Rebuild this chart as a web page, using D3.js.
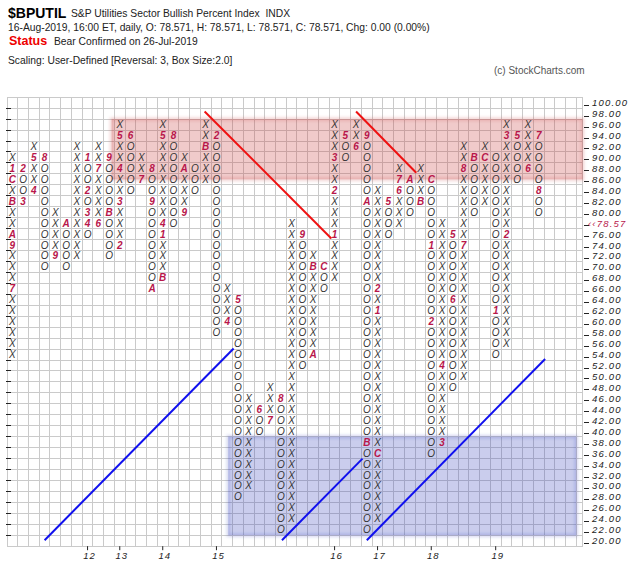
<!DOCTYPE html>
<html>
<head>
<meta charset="utf-8">
<script src="https://cdn.jsdelivr.net/npm/d3@7/dist/d3.min.js"></script>
<style>
  body { margin: 0; background: #fff; }
  svg { display: block; font-family: "Liberation Sans", Arial, sans-serif; }
</style>
</head>
<body>
<div id="chart"></div>
<script>
// point & figure columns, box size 2
const colKind = ['X','O','X','O','X','O','X','O','X','O','X','O','X','O','X','O','X','O','X','O',
                 'X','O','X','O','X','O','X','O','X','O','X','O','X','O','X','O','X','O','X','O',
                 'X','O','X','O','X','O','X','O','X','O'];
const colLow  = [54,82,84,70,72,70,72,76,78,72,74,84,86,66,68,78,80,84,86,58,
                 60,28,30,40,42,22,24,52,54,66,68,90,92,22,24,76,78,80,82,36,
                 38,48,50,80,82,54,56,86,88,80];
const colHigh = [90,88,92,90,80,78,92,90,92,90,96,94,90,88,96,94,90,88,96,94,
                 66,64,46,44,48,46,78,76,72,70,96,94,96,94,84,82,88,86,88,86,
                 78,76,92,90,92,90,96,94,96,94];

// month markers [column, price, month code]
const monthMarks = [
  [0,66,'7'],[0,74,'9'],[0,76,'A'],[0,82,'B'],[0,86,'C'],[0,88,'1'],
  [1,88,'2'],[1,82,'3'],[2,84,'4'],[2,90,'5'],[3,90,'8'],[4,72,'9'],[5,78,'A'],
  [7,90,'1'],[7,84,'2'],[7,80,'3'],[7,78,'4'],[8,78,'6'],[8,88,'7'],
  [9,90,'9'],[9,80,'B'],[10,74,'2'],[10,82,'3'],[10,88,'4'],[10,94,'5'],
  [11,94,'6'],[12,86,'7'],[13,88,'8'],[13,82,'9'],[13,66,'A'],
  [14,68,'B'],[14,76,'1'],[14,78,'4'],[14,94,'5'],[15,94,'8'],[16,80,'9'],[16,88,'A'],
  [18,92,'B'],[19,94,'2'],[20,60,'4'],[21,64,'5'],[23,44,'6'],[24,42,'7'],[25,46,'8'],
  [27,76,'9'],[28,54,'A'],[28,70,'B'],[29,70,'C'],[30,76,'1'],[30,84,'2'],[30,90,'3'],
  [31,94,'5'],[32,92,'6'],[33,94,'9'],[33,82,'A'],[33,38,'B'],
  [34,36,'C'],[34,62,'1'],[34,66,'2'],[35,82,'5'],[36,84,'6'],[36,86,'7'],
  [37,86,'A'],[38,82,'B'],[39,86,'C'],[39,74,'1'],[39,60,'2'],[40,38,'3'],[40,52,'4'],
  [41,76,'5'],[41,64,'6'],[42,74,'7'],[42,88,'8'],[43,90,'B'],[44,90,'C'],[45,62,'1'],
  [46,76,'2'],[46,94,'3'],[47,94,'5'],[48,88,'6'],[49,94,'7'],[49,84,'8']
];

const yearLabels = ['12','13','14','15','16','17','18','19'];
const yearCols   = [7, 10, 14, 19, 30, 34, 39, 45];

const priceTicks = [100,98,96,94,92,90,88,86,84,82,80,78,76,74,72,70,68,66,64,62,60,
                    58,56,54,52,50,48,46,44,42,40,38,36,34,32,30,28,26,24,22,20];
const lastPrice = 78.57;

// trend lines [col0, price0, col1, price1]
const redLines  = [[17.9, 98.4, 29.7, 75.2], [32.0, 98.4, 37.6, 87.2]];
const blueLines = [[3.0, 20.1, 20.6, 55.1], [25.1, 20.1, 32.6, 35.0], [33.0, 20.1, 49.6, 53.2]];

// shaded zones [col0, col1, priceLow, priceHigh]
const redZone  = [9.24, 53.1, 86, 97];
const blueZone = [20.1, 52.5, 21, 39];

const W = 640, H = 569;
const svg = d3.select('#chart').append('svg').attr('width', W).attr('height', H);

const x = d3.scaleLinear().domain([-0.5, 53.1]).range([7, 582.7]);
const y = d3.scaleLinear().domain([19, 101]).range([546.2, 97.2]);

const defs = svg.append('defs');
defs.append('filter').attr('id', 'soft').attr('x', '-5%').attr('y', '-20%').attr('width', '110%').attr('height', '140%')
  .append('feGaussianBlur').attr('stdDeviation', 1.6);

// header
const head = svg.append('g');
head.append('text').attr('x', 8).attr('y', 17.5).attr('font-size', 14).attr('font-weight', 'bold').text('$BPUTIL');
head.append('text').attr('x', 71).attr('y', 17).attr('font-size', 10.3).attr('fill', '#222')
  .text('S&P Utilities Sector Bullish Percent Index\u00a0\u00a0INDX');
head.append('text').attr('x', 8).attr('y', 31).attr('font-size', 10.3).attr('fill', '#222')
  .text('16-Aug-2019, 16:00 ET, daily, O: 78.571, H: 78.571, L: 78.571, C: 78.571, Chg: 0.00 (0.00%)');
head.append('text').attr('x', 9).attr('y', 45).attr('font-size', 12.5).attr('font-weight', 'bold').attr('fill', '#ee0000').text('Status');
head.append('text').attr('x', 54).attr('y', 45).attr('font-size', 10.3).attr('fill', '#222').text('Bear Confirmed on 26-Jul-2019');
head.append('text').attr('x', 8).attr('y', 64).attr('font-size', 10.3).attr('fill', '#222')
  .text('Scaling: User-Defined [Reversal: 3, Box Size:2.0]');
head.append('text').attr('x', 494).attr('y', 74).attr('font-size', 10).attr('fill', '#555')
  .text('(c) StockCharts.com');

// grid
const grid = svg.append('g').attr('stroke', '#cacaca').attr('stroke-width', 1).attr('shape-rendering', 'crispEdges');
const vLines = d3.range(-0.5, 53.1, 1);
grid.selectAll('line.v').data(vLines).join('line').attr('class', 'v')
  .attr('x1', d => x(d)).attr('x2', d => x(d)).attr('y1', y(101)).attr('y2', y(19));
grid.append('line').attr('x1', x(53.1)).attr('x2', x(53.1)).attr('y1', y(101)).attr('y2', y(19));
const hLines = d3.range(19, 101.5, 2);
grid.selectAll('line.h').data(hLines).join('line').attr('class', 'h')
  .attr('x1', x(-0.5)).attr('x2', x(53.1)).attr('y1', d => y(d)).attr('y2', d => y(d));

// shaded zones
function zone(z, col) {
  const g = svg.append('g');
  g.append('rect').attr('x', x(z[0])).attr('y', y(z[3])).attr('width', x(z[1]) - x(z[0])).attr('height', y(z[2]) - y(z[3]))
    .attr('fill', 'none').attr('stroke', col).attr('stroke-opacity', 0.25).attr('stroke-width', 3).attr('filter', 'url(#soft)');
  g.append('rect').attr('x', x(z[0])).attr('y', y(z[3])).attr('width', x(z[1]) - x(z[0])).attr('height', y(z[2]) - y(z[3]))
    .attr('fill', col).attr('fill-opacity', 0.27);
}
zone(redZone, '#c83c3c');
zone(blueZone, '#3c46be');

// boxes
const markMap = new Map(monthMarks.map(d => [d[0] + ':' + d[1], d[2]]));
const boxes = [];
colKind.forEach((k, i) => {
  for (let p = colLow[i]; p <= colHigh[i]; p += 2) {
    const m = markMap.get(i + ':' + p);
    boxes.push({col: i, price: p, txt: m || k, month: !!m});
  }
});
svg.append('g').selectAll('text').data(boxes).join('text')
  .attr('x', d => x(d.col)).attr('y', d => y(d.price) + 3.5)
  .attr('text-anchor', 'middle').attr('font-size', 10).attr('font-style', 'italic')
  .attr('font-weight', d => d.month ? 'bold' : 'normal')
  .attr('fill', d => d.month ? '#b8164a' : '#333')
  .text(d => d.txt);

// trend lines
svg.append('g').selectAll('line').data(redLines).join('line')
  .attr('x1', d => x(d[0])).attr('y1', d => y(d[1])).attr('x2', d => x(d[2])).attr('y2', d => y(d[3]))
  .attr('stroke', '#ee1111').attr('stroke-width', 2);
svg.append('g').selectAll('line').data(blueLines).join('line')
  .attr('x1', d => x(d[0])).attr('y1', d => y(d[1])).attr('x2', d => x(d[2])).attr('y2', d => y(d[3]))
  .attr('stroke', '#1010ee').attr('stroke-width', 2);

// left ticks
svg.append('g').selectAll('line').data(hLines.slice(1, -1)).join('line')
  .attr('x1', x(-0.5) - 1).attr('x2', x(-0.5) + 4).attr('y1', d => y(d)).attr('y2', d => y(d))
  .attr('stroke', '#222').attr('shape-rendering', 'crispEdges');

// right axis
const ra = svg.append('g');
ra.selectAll('line').data(priceTicks).join('line')
  .attr('x1', 584).attr('x2', 589).attr('y1', d => y(d) + 2.5).attr('y2', d => y(d) + 2.5)
  .attr('stroke', '#222').attr('shape-rendering', 'crispEdges');
ra.selectAll('text').data(priceTicks).join('text')
  .attr('x', d => d === 78 ? 588 : 592).attr('y', d => y(d) + 3.5)
  .attr('font-size', 9.5).attr('font-style', 'italic').attr('letter-spacing', 1.2)
  .attr('fill', d => d === 78 ? '#b8164a' : '#222')
  .text(d => d === 78 ? '\u2039\u2039' + lastPrice.toFixed(2) : d.toFixed(2));

// year axis
const xa = svg.append('g');
xa.selectAll('line').data(yearCols).join('line')
  .attr('x1', d => x(d)).attr('x2', d => x(d)).attr('y1', y(19)).attr('y2', y(19) + 4)
  .attr('stroke', '#222');
xa.selectAll('text').data(yearLabels).join('text')
  .attr('x', (d, i) => x(yearCols[i]) + 2).attr('y', 559)
  .attr('text-anchor', 'middle').attr('font-size', 9.5).attr('font-style', 'italic').attr('letter-spacing', 1)
  .attr('fill', '#222').text(d => d);
</script>
</body>
</html>
